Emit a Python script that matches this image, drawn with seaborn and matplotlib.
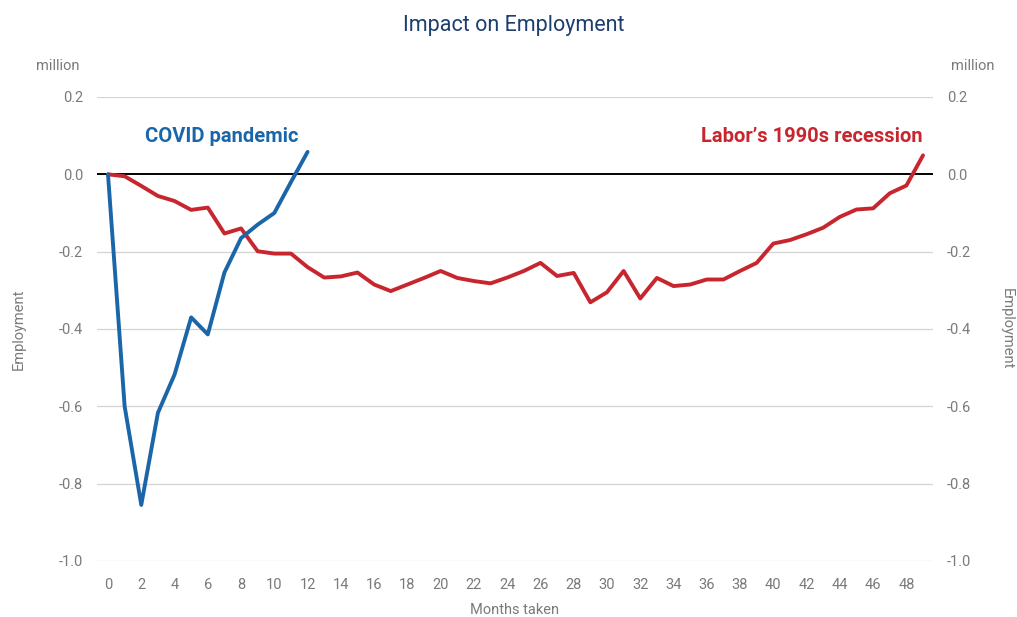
import matplotlib
matplotlib.use("Agg")
import matplotlib.pyplot as plt
import seaborn as sns
import pandas as pd
import numpy as np

months_covid = list(range(0, 13))
covid = [0.0, -0.60, -0.855, -0.617, -0.518, -0.37, -0.414, -0.254, -0.165, -0.13, -0.10, -0.02, 0.058]

months_labor = list(range(0, 50))
labor = [0.0, -0.005, -0.03, -0.056, -0.069, -0.092, -0.086, -0.153, -0.14, -0.199,
         -0.205, -0.205, -0.24, -0.267, -0.264, -0.254, -0.285, -0.302, -0.285, -0.268,
         -0.25, -0.268, -0.276, -0.282, -0.267, -0.25, -0.229, -0.263, -0.255, -0.331,
         -0.305, -0.25, -0.321, -0.268, -0.289, -0.285, -0.272, -0.272, -0.25, -0.229,
         -0.179, -0.17, -0.155, -0.138, -0.11, -0.091, -0.088, -0.049, -0.029, 0.049]

yticks = [-1.0, -0.8, -0.6, -0.4, -0.2, 0.0, 0.2]
xticks = list(range(0, 49, 2))

BLUE = "#1b66a9"
RED = "#c8262f"
GREY = "#7a7a7a"
NAVY = "#1d3f6e"

sns.set_theme(style="white")
plt.rcParams['font.family'] = ['Roboto', 'DejaVu Sans']

fig = plt.figure(figsize=(10.17, 6.17), dpi=100)
ax = fig.add_axes([0.0954, 0.0908, 0.822, 0.752])

df_c = pd.DataFrame({"month": months_covid, "value": covid})
df_l = pd.DataFrame({"month": months_labor, "value": labor})

for yv in yticks:
    if yv != 0.0:
        ax.axhline(yv, color="#d4d4d4", lw=0.9, zorder=0)
ax.axhline(0.0, color="black", lw=1.4, zorder=1)

sns.lineplot(data=df_l, x="month", y="value", ax=ax, color=RED, lw=2.8, zorder=3)
sns.lineplot(data=df_c, x="month", y="value", ax=ax, color=BLUE, lw=2.8, zorder=4)

ax.set_xlim(-0.66, 49.6)
ax.set_ylim(-1.0, 0.2)
ax.set_yticks(yticks)
ax.set_yticklabels([f"{v:.1f}" for v in yticks])
ax.set_xticks(xticks)
ax.set_xticklabels([str(x) for x in xticks])
ax.tick_params(axis="both", colors=GREY, labelsize=10.5, length=0, pad=10)
ax.tick_params(axis="x", pad=12)
for s in ax.spines.values():
    s.set_visible(False)
ax.grid(False)
ax.set_xlabel("Months taken", color=GREY, fontsize=10.5, labelpad=8)
ax.set_ylabel("Employment", color=GREY, fontsize=10.5, labelpad=24)

ax2 = ax.twinx()
ax2.set_ylim(-1.0, 0.2)
ax2.set_yticks(yticks)
ax2.set_yticklabels([f"{v:.1f}" for v in yticks])
ax2.tick_params(axis="y", colors=GREY, labelsize=10.5, length=0, pad=10)
for s in ax2.spines.values():
    s.set_visible(False)
ax2.grid(False)
ax2.set_ylabel("Employment", color=GREY, fontsize=10.5, rotation=-90, labelpad=31)

fig.text(58/1017, 1 - 66/617, "million", color=GREY, fontsize=10.5, ha="center", va="center")
fig.text(973/1017, 1 - 66/617, "million", color=GREY, fontsize=10.5, ha="center", va="center")
fig.text(514/1017, 1 - 25/617, "Impact on Employment", color=NAVY, fontsize=15.5, ha="center", va="center")

ax.text(2.2, 0.097, "COVID pandemic", color=BLUE, fontsize=14.5, fontweight="bold", ha="left", va="center")
ax.text(49, 0.097, "Labor\u2019s 1990s recession", color=RED, fontsize=14.5, fontweight="bold", ha="right", va="center")

fig.savefig("out.png", dpi=100, facecolor="white")
